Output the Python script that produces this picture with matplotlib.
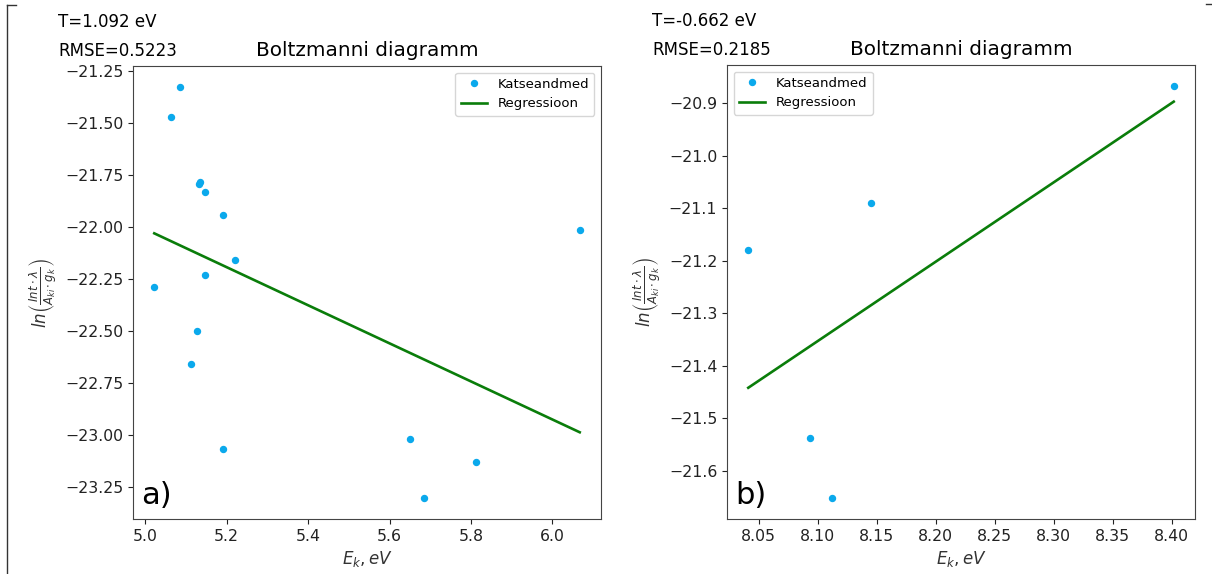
import numpy as np
import matplotlib
matplotlib.use('Agg')
import matplotlib.pyplot as plt
from matplotlib.lines import Line2D
from matplotlib.ticker import MultipleLocator

# Excitation energies (eV) and log-intensities, first element
ekA = [5.086, 5.064, 5.1345, 5.133, 5.146, 5.191, 5.220, 5.146,
       5.022, 5.128, 5.113, 5.190, 5.649, 5.812, 5.684, 6.067]
lnA = [-21.325, -21.471, -21.783, -21.794, -21.832, -21.941, -22.161, -22.233,
       -22.287, -22.503, -22.661, -23.070, -23.020, -23.132, -23.306, -22.014]
tempA = 1.092
interceptA = -17.432
rmseA = 0.5223

# second element
ekB = [8.4018, 8.1457, 8.0413, 8.0939, 8.112]
lnB = [-20.8665, -21.090, -21.179, -21.537, -21.652]
tempB = -0.662
interceptB = -33.5885
rmseB = 0.2185

pointColor = '#0ba9ec'
lineColor = '#0a7d0a'
ylab = r'$ln\left(\frac{Int \cdot \lambda}{A_{ki} \cdot g_k}\right)$'


def boltzmannPlot(ax, ek, lnI, temp, intercept, rmse, tag, legendLoc, xStep, yStep):
    ek = np.array(ek)
    xFit = np.array([ek.min(), ek.max()])
    yFit = intercept - xFit / temp
    ax.plot(ek, lnI, 'o', color=pointColor, markersize=4.3, label='Katseandmed')
    ax.plot(xFit, yFit, '-', color=lineColor, lw=1.9, label='Regressioon')
    ax.set_title('Boltzmanni diagramm', fontsize=14.4, pad=7)
    ax.set_xlabel(r'$E_k, eV$', fontsize=12, color='#333333')
    ax.set_ylabel(ylab, fontsize=12, color='#333333')
    ax.xaxis.set_major_locator(MultipleLocator(xStep))
    ax.yaxis.set_major_locator(MultipleLocator(yStep))
    ax.tick_params(labelsize=11.3, colors='#222222')
    for s in ax.spines.values():
        s.set_color('#444444')
    ax.legend(loc=legendLoc, fontsize=9.5)
    ax.text(-0.16, 1.097, 'T=%.3f eV' % temp, transform=ax.transAxes, fontsize=12, va='center')
    ax.text(-0.16, 1.033, 'RMSE=%.4f' % rmse, transform=ax.transAxes, fontsize=12, va='center')
    ax.text(0.018, 0.02, tag, transform=ax.transAxes, fontsize=22, va='bottom')


fig = plt.figure(figsize=(12.12, 5.74), dpi=100)
W, H = 1212.0, 574.0
axA = fig.add_axes([133 / W, 1 - 519 / H, 468 / W, 453 / H])
axB = fig.add_axes([727 / W, 1 - 519 / H, 468 / W, 454 / H])

boltzmannPlot(axA, ekA, lnA, tempA, interceptA, rmseA, 'a)', 'upper right', 0.2, 0.25)
boltzmannPlot(axB, ekB, lnB, tempB, interceptB, rmseB, 'b)', 'upper left', 0.05, 0.1)

# bracket lines around the figure
fig.add_artist(Line2D([7 / W, 7 / W], [0, 1 - 5 / H], transform=fig.transFigure, color='#333333', lw=1))
fig.add_artist(Line2D([7 / W, 16 / W], [1 - 5 / H, 1 - 5 / H], transform=fig.transFigure, color='#333333', lw=1))
fig.add_artist(Line2D([1206 / W, 1212 / W], [1 - 4 / H, 1 - 4 / H], transform=fig.transFigure, color='#333333', lw=1))

fig.savefig('out.png', dpi=100)
